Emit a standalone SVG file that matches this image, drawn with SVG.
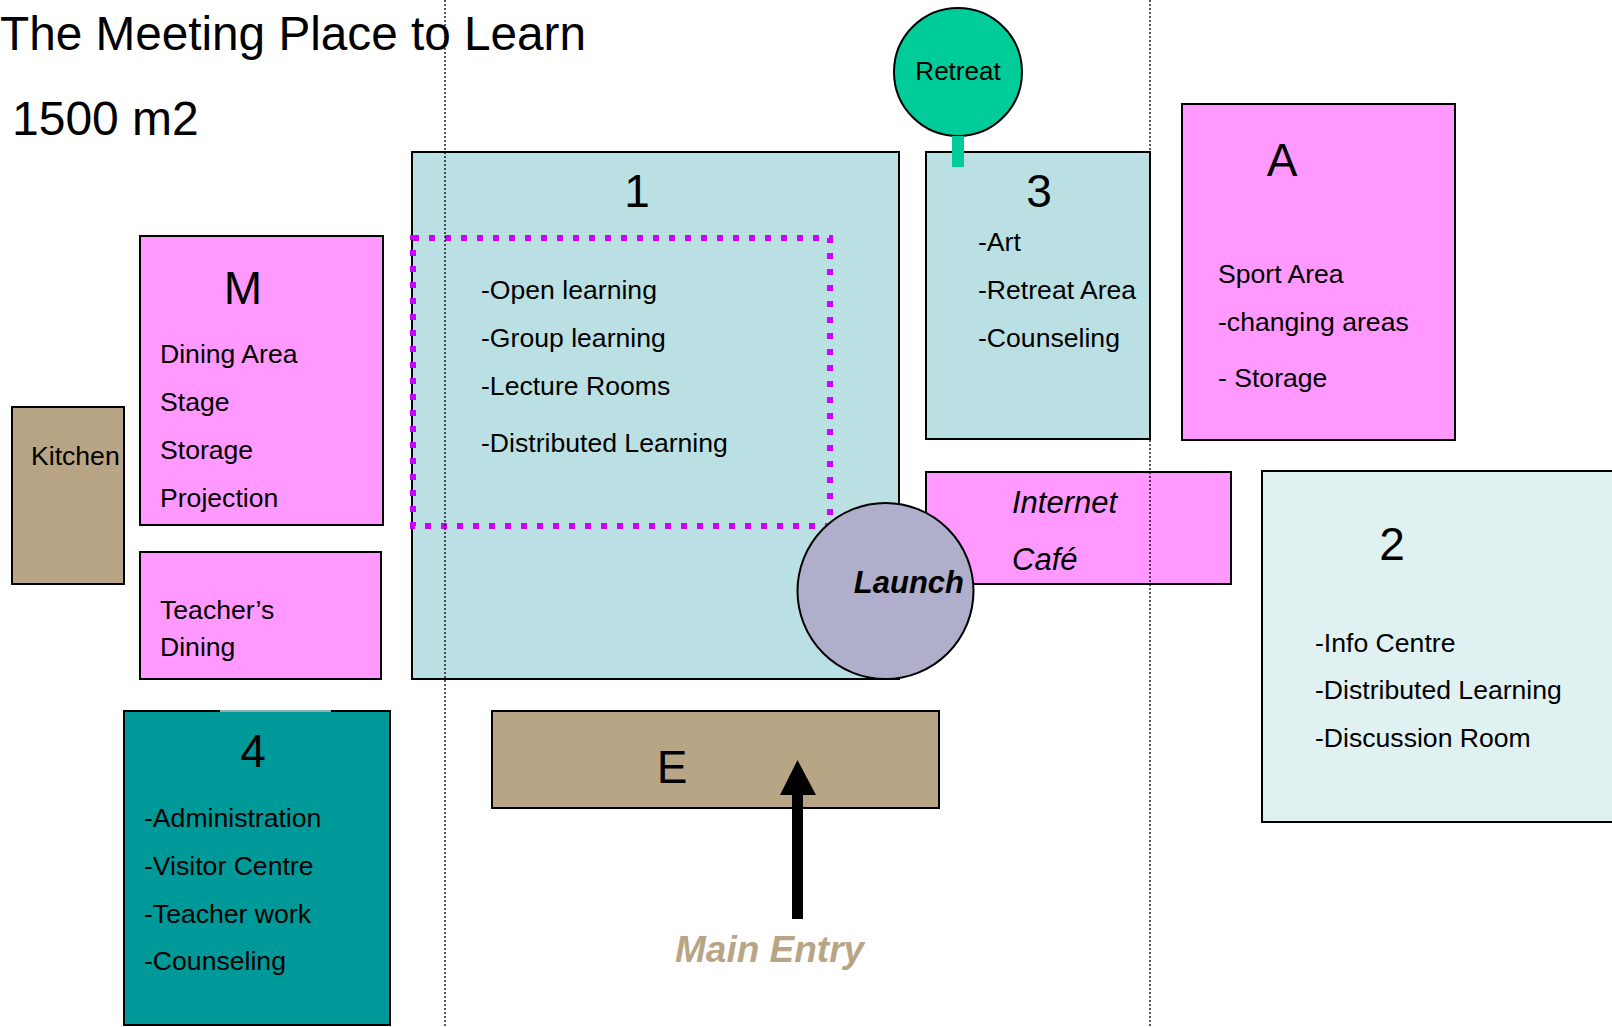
<svg xmlns="http://www.w3.org/2000/svg" width="1612" height="1027" viewBox="0 0 1612 1027">
<style>
text{font-family:"Liberation Sans",Arial,sans-serif;fill:#000}
.b{font-size:26.6px}
.n{font-size:46px;text-anchor:middle}
.box{stroke:#000;stroke-width:2}
.pink{fill:#FF99FF}
.teal{fill:#BBE0E3}
.tan{fill:#B8A586}
.guide{stroke:#000;stroke-width:1.3;stroke-dasharray:2 2;fill:none}
</style>
<rect width="1612" height="1027" fill="#fff"/>
<g id="title">
<text x="0" y="50" font-size="48" textLength="586" lengthAdjust="spacingAndGlyphs">The Meeting Place to Learn</text>
<text x="12" y="135" font-size="48">1500 m2</text>
</g>
<g id="node-1">
<rect class="box teal" x="412" y="152" width="487" height="527"/>
<rect x="413" y="238" width="417" height="288" fill="none" stroke="#CC00FF" stroke-width="6" stroke-dasharray="6 10"/>
<text class="n" x="637" y="207">1</text>
<text class="b" x="481" y="299">-Open learning</text>
<text class="b" x="481" y="347">-Group learning</text>
<text class="b" x="481" y="395">-Lecture Rooms</text>
<text class="b" x="481" y="452">-Distributed Learning</text>
</g>
<g id="node-3">
<rect class="box teal" x="926" y="152" width="224" height="287"/>
<text class="n" x="1039" y="207">3</text>
<text class="b" x="978" y="251">-Art</text>
<text class="b" x="978" y="299">-Retreat Area</text>
<text class="b" x="978" y="347">-Counseling</text>
</g>
<g id="node-retreat">
<circle cx="958" cy="72" r="64" fill="#00CC99" stroke="#000" stroke-width="2"/>
<text x="958" y="80" font-size="26" text-anchor="middle">Retreat</text>
</g>
<g id="node-A">
<rect class="box pink" x="1182" y="104" width="273" height="336"/>
<text class="n" x="1282" y="176">A</text>
<text class="b" x="1218" y="283">Sport Area</text>
<text class="b" x="1218" y="331">-changing areas</text>
<text class="b" x="1218" y="387">- Storage</text>
</g>
<g id="node-M">
<rect class="box pink" x="140" y="236" width="243" height="289"/>
<text class="n" x="243" y="304">M</text>
<text class="b" x="160" y="363">Dining Area</text>
<text class="b" x="160" y="411">Stage</text>
<text class="b" x="160" y="459">Storage</text>
<text class="b" x="160" y="507">Projection</text>
</g>
<g id="node-kitchen">
<rect class="box tan" x="12" y="407" width="112" height="177"/>
<text class="b" x="31" y="465">Kitchen</text>
</g>
<g id="node-teachers-dining">
<rect class="box pink" x="140" y="552" width="241" height="127"/>
<text class="b" x="160" y="619">Teacher’s</text>
<text class="b" x="160" y="656">Dining</text>
</g>
<g id="node-4">
<rect x="124" y="711" width="266" height="314" fill="#009999" stroke="#000" stroke-width="2"/>
<line x1="220" y1="711" x2="331" y2="711" stroke="#8FB0B0" stroke-width="2.2"/>
<text class="n" x="253" y="767">4</text>
<text class="b" x="144" y="827">-Administration</text>
<text class="b" x="144" y="875">-Visitor Centre</text>
<text class="b" x="144" y="923">-Teacher work</text>
<text class="b" x="144" y="970">-Counseling</text>
</g>
<g id="node-E">
<rect class="box tan" x="492" y="711" width="447" height="97"/>
<text class="n" x="672" y="783">E</text>
</g>
<g id="node-cafe">
<rect class="box pink" x="926" y="472" width="305" height="112"/>
<text x="1012" y="513" font-size="31" font-style="italic">Internet</text>
<text x="1012" y="570" font-size="31" font-style="italic">Café</text>
</g>
<g id="node-launch">
<circle cx="885.5" cy="591" r="88" fill="#AFAFCB" stroke="#000" stroke-width="2"/>
<text x="964" y="593" font-size="31" font-weight="bold" font-style="italic" text-anchor="end">Launch</text>
</g>
<g id="node-2">
<rect x="1262" y="471" width="360" height="351" fill="#E0F1F1" stroke="#000" stroke-width="2"/>
<text class="n" x="1392" y="560">2</text>
<text class="b" x="1315" y="652">-Info Centre</text>
<text class="b" x="1315" y="699">-Distributed Learning</text>
<text class="b" x="1315" y="747">-Discussion Room</text>
</g>
<g id="connectors">
<rect x="952" y="136" width="12" height="31" fill="#00CC99"/>
<path d="M792,919 L792,795 L780,795 L797.5,760 L816,795 L803,795 L803,919 Z" fill="#000"/>
<line class="guide" x1="445" y1="0" x2="445" y2="1027"/>
<line class="guide" x1="1150" y1="0" x2="1150" y2="1027"/>
</g>
<g id="label-main-entry">
<text x="675" y="962" font-size="37" font-weight="bold" font-style="italic" style="fill:#B8A586">Main Entry</text>
</g>
</svg>
